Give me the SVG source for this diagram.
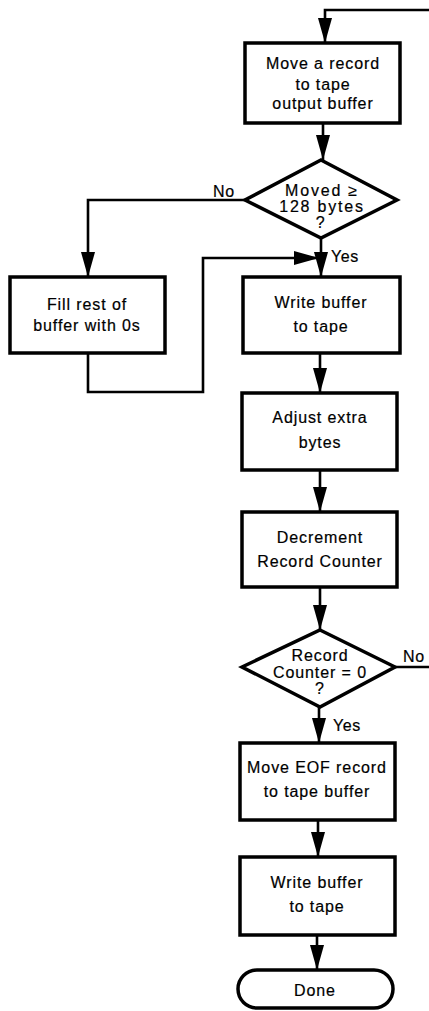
<svg xmlns="http://www.w3.org/2000/svg" width="429" height="1011" viewBox="0 0 429 1011">
<style>
.box{fill:#fff;stroke:#000;stroke-width:3.5}
.t{font-family:"Liberation Sans",Arial,sans-serif;font-size:16px;fill:#000;stroke:#000;stroke-width:0.2;text-anchor:middle;letter-spacing:0.9px}
.d{letter-spacing:1.8px}
.l{font-family:"Liberation Sans",Arial,sans-serif;font-size:16px;fill:#000;stroke:#000;stroke-width:0.2;letter-spacing:0.6px}
.c{fill:none;stroke:#000;stroke-width:2.6}
</style>
<defs>
<marker id="ah" markerUnits="userSpaceOnUse" markerWidth="26" markerHeight="16" viewBox="0 0 26 16" refX="25" refY="8" orient="auto">
<path d="M0,1 L25,8 L0,15 Z" fill="#000"/>
</marker>
</defs>
<rect width="429" height="1011" fill="#fff"/>
<g id="connectors">
<path class="c" d="M429,10 H325 V43" marker-end="url(#ah)"/>
<path class="c" d="M323,123 V160" marker-end="url(#ah)"/>
<path class="c" d="M245,200 H88 V277" marker-end="url(#ah)"/>
<path class="c" d="M321,238 V277" marker-end="url(#ah)"/>
<path class="c" d="M88,353 V392 H203 V258 H319" marker-end="url(#ah)"/>
<path class="c" d="M320,353 V393" marker-end="url(#ah)"/>
<path class="c" d="M320,470 V512" marker-end="url(#ah)"/>
<path class="c" d="M320,587 V630" marker-end="url(#ah)"/>
<path class="c" d="M395,667 H429"/>
<path class="c" d="M319,707 V743" marker-end="url(#ah)"/>
<path class="c" d="M318,820 V857" marker-end="url(#ah)"/>
<path class="c" d="M317,935 V970" marker-end="url(#ah)"/>
<text class="l" x="213" y="197">No</text>
<text class="l" x="331" y="262">Yes</text>
<text class="l" x="403" y="662">No</text>
<text class="l" x="333" y="731">Yes</text>
</g>
<g id="move-record">
<rect class="box" x="245" y="43" width="155" height="80"/>
<text class="t" x="323" y="69">Move a record</text>
<text class="t" x="323" y="90">to tape</text>
<text class="t" x="323" y="109">output buffer</text>
</g>
<g id="decision-128">
<polygon class="box" points="321,160 397,200 321,238 245,200"/>
<text class="t d" x="322" y="196">Moved ≥</text>
<text class="t d" x="322" y="212">128 bytes</text>
<text class="t d" x="321" y="228">?</text>
</g>
<g id="fill-rest">
<rect class="box" x="10" y="277" width="155" height="76"/>
<text class="t" x="87" y="310">Fill rest of</text>
<text class="t" x="87" y="331">buffer with 0s</text>
</g>
<g id="write-buffer-1">
<rect class="box" x="243" y="277" width="157" height="76"/>
<text class="t" x="321" y="308">Write buffer</text>
<text class="t" x="321" y="332">to tape</text>
</g>
<g id="adjust-extra">
<rect class="box" x="242" y="393" width="155" height="77"/>
<text class="t" x="320" y="423">Adjust extra</text>
<text class="t" x="320" y="448">bytes</text>
</g>
<g id="decrement">
<rect class="box" x="242" y="512" width="155" height="75"/>
<text class="t" x="320" y="543">Decrement</text>
<text class="t" x="320" y="567">Record Counter</text>
</g>
<g id="decision-counter">
<polygon class="box" points="320,630 395,667 320,707 242,667"/>
<text class="t" x="320" y="661">Record</text>
<text class="t" x="320" y="678">Counter = 0</text>
<text class="t" x="320" y="694">?</text>
</g>
<g id="move-eof">
<rect class="box" x="240" y="743" width="155" height="77"/>
<text class="t" x="317" y="773">Move EOF record</text>
<text class="t" x="317" y="797">to tape buffer</text>
</g>
<g id="write-buffer-2">
<rect class="box" x="240" y="857" width="155" height="78"/>
<text class="t" x="317" y="888">Write buffer</text>
<text class="t" x="317" y="912">to tape</text>
</g>
<g id="done">
<rect class="box" x="238" y="970" width="155" height="38" rx="19"/>
<text class="t" x="315" y="996">Done</text>
</g>
</svg>
